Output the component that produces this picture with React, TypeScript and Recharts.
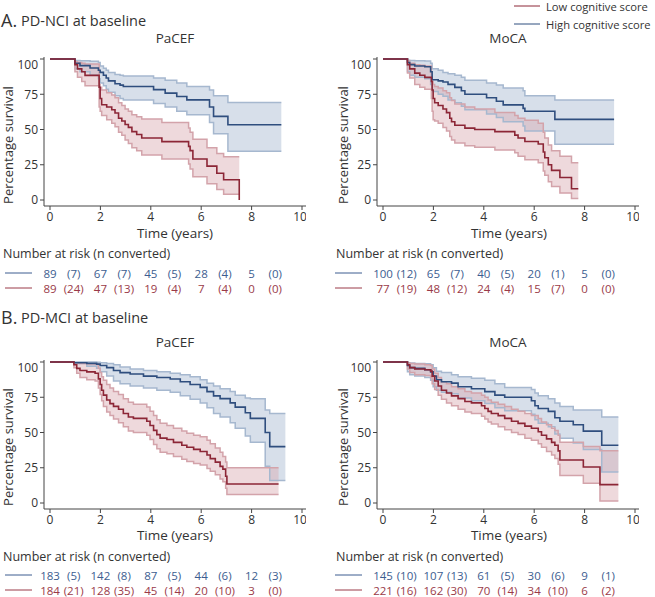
import { Area, ComposedChart, Line, XAxis, YAxis } from "recharts";

const FONT = "'Open Sans', 'Noto Sans', sans-serif";
const BLUE = "#2f4e7e";
const RED = "#8c2636";
const BLUE_CI = "#a6b8cf";
const RED_CI = "#d3a3aa";
const BLUE_TXT = "#3c5d90";
const RED_TXT = "#9a3a48";
const INK = "#333";

// Kaplan-Meier curves (time in years, survival %), with 95% CI
const aPacefHighT = [0, 0.99, 1.19, 1.59, 1.92, 1.99, 2.12, 2.23, 2.32, 2.58, 2.78, 2.91, 4.11, 4.57, 5.03, 5.43, 6.33, 6.49, 7.06, 9.18];
const aPacefHighS = [100, 97, 95.3, 93.6, 92, 90.5, 88.5, 86.5, 84.5, 82.5, 81.5, 80.5, 78.3, 75.8, 73.4, 71, 66, 59.3, 53.4, 53.4];
const aPacefHighU = [100, 99, 98.8, 98.4, 97.6, 95, 93.5, 92, 90.5, 89, 88.5, 88, 86.5, 85, 83, 80.5, 78, 74, 69.2, 69.2];
const aPacefHighL = [100, 93, 91, 88.5, 86, 83, 81, 78.5, 76.5, 74, 72, 71, 68.5, 66, 63, 60.5, 55, 47, 34.5, 34.5];

const aPacefLowT = [0, 0.99, 1.09, 1.26, 1.39, 1.95, 1.99, 2.05, 2.25, 2.45, 2.58, 2.72, 2.85, 2.98, 3.11, 3.25, 3.44, 3.64, 4.44, 5.5, 5.56, 5.67, 6.23, 6.62, 6.89, 7.51];
const aPacefLowS = [100, 96, 93, 91, 88.4, 80, 72, 67.6, 66, 64, 61.7, 58, 56, 53.5, 51.5, 48.5, 46.5, 44, 41.4, 38, 35, 29.1, 24, 19, 14.4, 0];
const aPacefLowU = [100, 98, 97.5, 97, 96.5, 82, 80, 78, 76, 74.5, 72.5, 69, 67, 64.5, 63, 60.5, 59, 57.5, 55, 51, 48, 43, 37, 33, 30.6, 30.6];
const aPacefLowL = [100, 91, 87, 84, 81, 66, 63, 60, 57, 54.5, 52, 48, 46, 42.5, 40, 37, 35, 32, 29, 25.5, 22, 16.5, 11.5, 7.5, 4, 4];

const aMocaHighT = [0, 0.97, 1.06, 1.26, 1.66, 1.89, 1.95, 2.19, 2.38, 2.58, 2.85, 3.11, 3.25, 4.11, 4.5, 4.77, 5.56, 5.63, 6.82, 9.17];
const aMocaHighS = [100, 97.5, 96, 95, 94.5, 91, 85.3, 84.5, 83.7, 82, 79.9, 77.5, 75, 72.5, 70, 67.5, 65, 62.9, 57.2, 57.2];
const aMocaHighU = [100, 99.2, 99, 98.8, 98.5, 97, 93, 92, 90.5, 89.5, 88.5, 87, 85, 83, 81.5, 79.5, 77.5, 74, 71, 71];
const aMocaHighL = [100, 91, 88.5, 87, 86, 82, 77, 75, 73.5, 71, 69, 66.5, 64, 61, 58.5, 55.5, 52.5, 49, 39.5, 39.5];

const aMocaLowT = [0, 0.97, 1.06, 1.26, 1.46, 1.66, 1.92, 1.95, 1.99, 2.05, 2.19, 2.38, 2.52, 2.65, 2.72, 2.85, 3.25, 3.64, 4.44, 5.23, 5.36, 5.63, 6.16, 6.36, 6.42, 6.56, 6.69, 7.02, 7.48, 7.75];
const aMocaLowS = [100, 96, 93, 90, 88.5, 87, 84, 78, 72, 69, 67, 64.5, 62, 58, 55.5, 53, 51, 50, 48.5, 46, 44, 41.5, 39.7, 34, 30, 25, 21, 16, 8, 8];
const aMocaLowU = [100, 98.5, 97, 96, 95.5, 95, 88, 84, 82, 80.5, 79.5, 77.5, 76, 72.5, 70.5, 68, 66, 64.5, 62, 60, 58, 56.5, 54.5, 48, 44, 39, 35, 31, 26.5, 26.5];
const aMocaLowL = [100, 90, 86.5, 82, 80, 78.5, 72, 63, 57, 56, 54.5, 51.5, 49, 45, 42.5, 40.5, 38.5, 37.5, 35.5, 33.5, 31, 28.5, 26.5, 20.5, 17.5, 13, 9.5, 5, 1, 1];

const bPacefHighT = [0, 0.95, 1.46, 1.85, 1.99, 2.25, 2.52, 2.78, 3.18, 3.71, 4.24, 4.77, 5.17, 5.56, 5.96, 6.23, 6.49, 6.75, 7.15, 7.35, 7.75, 7.95, 8.54, 8.72, 9.34];
const bPacefHighS = [100, 99.5, 99, 98.5, 97.5, 96, 94, 92.5, 91.5, 90, 89, 87.9, 86, 84, 82, 79, 76, 74, 71, 68, 64, 60, 50, 40, 40];
const bPacefHighU = [100, 100, 100, 99.8, 99.5, 99, 98, 96.5, 95, 94, 93, 92, 91, 89.5, 87.5, 85, 83, 81, 79, 76.5, 74.5, 74, 66, 63.5, 63.5];
const bPacefHighL = [100, 99, 97, 95.5, 93, 90, 86.5, 84.5, 83, 81.5, 80, 78.5, 76, 73.5, 71, 67.5, 63.5, 61, 57, 53, 47.5, 43, 26, 16, 16];

const bPacefLowT = [0, 0.95, 1.06, 1.19, 1.46, 1.79, 1.92, 1.99, 2.05, 2.12, 2.25, 2.38, 2.52, 2.72, 2.91, 3.11, 3.31, 3.84, 3.97, 4.11, 4.24, 4.37, 4.64, 4.9, 5.23, 5.43, 5.7, 5.96, 6.23, 6.36, 6.56, 6.75, 6.86, 6.97, 7.02, 9.07];
const bPacefLowS = [100, 98, 95.5, 94, 93, 92, 88, 84, 80, 76.5, 73, 70.5, 68.5, 66.5, 63.5, 61, 60, 58, 55, 51.5, 48.5, 46, 45, 43, 41, 39.5, 38, 36.5, 34, 31.5, 29, 26, 24, 19, 13.5, 13.5];
const bPacefLowU = [100, 99.5, 99.3, 99, 98.8, 98.5, 95.5, 92.5, 89.5, 87, 84, 81.5, 79, 77, 74, 71.5, 70, 68, 65, 62, 59, 56.5, 55, 53, 51, 49.5, 48, 47, 44.5, 42, 39, 36, 33, 29, 25, 25];
const bPacefLowL = [100, 96, 92, 89, 87.5, 86.5, 81.5, 77, 72.5, 68.5, 64.5, 62, 59.5, 57, 54, 51, 50, 48, 45, 41.5, 38.5, 36, 35, 33, 31, 29.5, 28, 27, 24.5, 22.5, 20, 17, 15, 10.5, 6, 6];

const bMocaHighT = [0, 0.97, 1.06, 1.26, 1.66, 1.89, 1.99, 2.12, 2.32, 2.72, 2.98, 3.51, 4.04, 4.44, 4.83, 5.89, 6.03, 6.16, 6.56, 6.82, 7.02, 7.55, 7.95, 8.68, 9.34];
const bMocaHighS = [100, 97.5, 96, 95.5, 94.5, 93, 90, 87.4, 86, 85, 82.5, 81, 79, 76.5, 75, 72.5, 69, 67, 65, 60.5, 58, 55.5, 51, 41, 41];
const bMocaHighU = [100, 99.5, 99.3, 99, 98.8, 98, 96, 93.5, 92.5, 91, 89.6, 88.5, 87, 84.5, 82, 80.5, 78, 76, 74, 71, 68.5, 66, 66, 61, 61];
const bMocaHighL = [100, 93, 91, 90, 89, 87, 82.5, 80, 78.5, 77.5, 74.5, 72.5, 70.5, 67.5, 65.5, 63, 59, 56.5, 54, 49, 46, 42.5, 38, 22, 22];

const bMocaLowT = [0, 0.97, 1.06, 1.26, 1.66, 1.89, 1.95, 2.05, 2.19, 2.32, 2.52, 2.72, 2.98, 3.25, 3.51, 3.91, 4.04, 4.17, 4.3, 4.57, 4.83, 5.1, 5.36, 5.63, 5.89, 6.16, 6.29, 6.49, 6.69, 6.82, 6.95, 7.02, 7.95, 8.61, 9.34];
const bMocaLowS = [100, 98, 96, 95, 94.5, 93.5, 90, 86.5, 83, 80, 78, 76, 74, 72, 71, 69, 67, 65, 63.5, 62, 60, 58, 56.5, 54.5, 53, 50.5, 48, 45.5, 43, 41, 37, 30.5, 25.5, 13, 13];
const bMocaLowU = [100, 99.5, 99, 98.5, 98, 97.5, 95, 92, 89, 86, 84.5, 82.5, 81, 79, 78, 76.5, 75, 73, 71.5, 70, 68.5, 66.5, 65, 63.5, 62, 60, 57.5, 55.5, 53, 51.5, 48, 43, 40, 37, 37];
const bMocaLowL = [100, 95, 92.5, 91, 90.5, 89, 84.5, 80.5, 76.5, 73.5, 71, 69, 66.5, 64.5, 63.5, 61.5, 59.5, 57.5, 56, 54, 52, 50, 48.5, 46, 44.5, 42, 39.5, 36.5, 34, 31.5, 27.5, 19.5, 14, 1.5, 1.5];

// Number at risk (n converted) at years 0,2,4,6,8
const aPacefHighRisk = [89, 67, 45, 28, 5];
const aPacefHighConv = [7, 7, 5, 4, 0];
const aPacefLowRisk = [89, 47, 19, 7, 0];
const aPacefLowConv = [24, 13, 4, 4, 0];
const aMocaHighRisk = [100, 65, 40, 20, 5];
const aMocaHighConv = [12, 7, 5, 1, 0];
const aMocaLowRisk = [77, 48, 24, 15, 0];
const aMocaLowConv = [19, 12, 4, 7, 0];
const bPacefHighRisk = [183, 142, 87, 44, 12];
const bPacefHighConv = [5, 8, 5, 6, 3];
const bPacefLowRisk = [184, 128, 45, 20, 3];
const bPacefLowConv = [21, 35, 14, 10, 0];
const bMocaHighRisk = [145, 107, 61, 30, 9];
const bMocaHighConv = [10, 13, 5, 6, 1];
const bMocaLowRisk = [221, 162, 70, 34, 6];
const bMocaLowConv = [16, 30, 14, 10, 2];

const xTicks = [0, 2, 4, 6, 8, 10];
const yTicks = [0, 25, 50, 75, 100];

function toRows(t: number[], s: number[], lo: number[], hi: number[]) {
  return t.map((v, i) => ({ t: v, s: s[i], lo: lo[i], hi: hi[i], band: [lo[i], hi[i]] }));
}

const tickStyle = { fill: INK, fontSize: 12, fontFamily: FONT };

function KMChart({ high, low }: { high: any[]; low: any[] }) {
  return (
    <ComposedChart width={306} height={173} margin={{ top: 0, right: 0, bottom: 0, left: 0 }}>
      <XAxis type="number" dataKey="t" domain={[0, 10]} ticks={xTicks} padding={{ left: 6, right: 4 }}
        tickSize={4} height={24} stroke="#444" tick={tickStyle} allowDataOverflow />
      <YAxis type="number" domain={[0, 100]} ticks={yTicks} padding={{ top: 2, bottom: 6 }}
        width={44} tickSize={4} stroke="#444" tick={tickStyle} />
      <Area data={high} dataKey="band" type="stepAfter" fill="#bccadc" fillOpacity={0.6} stroke="none" dot={false} activeDot={false} isAnimationActive={false} />
      <Area data={low} dataKey="band" type="stepAfter" fill="#d9aab1" fillOpacity={0.45} stroke="none" dot={false} activeDot={false} isAnimationActive={false} />
      <Line data={high} dataKey="hi" type="stepAfter" stroke={BLUE_CI} strokeWidth={1.5} dot={false} activeDot={false} isAnimationActive={false} />
      <Line data={high} dataKey="lo" type="stepAfter" stroke={BLUE_CI} strokeWidth={1.5} dot={false} activeDot={false} isAnimationActive={false} />
      <Line data={low} dataKey="hi" type="stepAfter" stroke={RED_CI} strokeWidth={1.5} dot={false} activeDot={false} isAnimationActive={false} />
      <Line data={low} dataKey="lo" type="stepAfter" stroke={RED_CI} strokeWidth={1.5} dot={false} activeDot={false} isAnimationActive={false} />
      <Line data={high} dataKey="s" type="stepAfter" stroke={BLUE} strokeWidth={1.6} dot={false} activeDot={false} isAnimationActive={false} />
      <Line data={low} dataKey="s" type="stepAfter" stroke={RED} strokeWidth={1.6} dot={false} activeDot={false} isAnimationActive={false} />
    </ComposedChart>
  );
}

function RiskTable({ x0, y, hr, hc, lr, lc, lineX }: { x0: number; y: number; hr: number[]; hc: number[]; lr: number[]; lc: number[]; lineX: number }) {
  const px = (t: number) => x0 + t * 25.2;
  const row = (yy: number, risk: number[], conv: number[], color: string) => (
    <g fill={color}>
      <line x1={lineX} x2={lineX + 27} y1={yy} y2={yy} stroke={color} strokeWidth={1} />
      {risk.map((v, i) => (
        <text key={"r" + i} x={px(i * 2)} y={yy} textAnchor="middle" dominantBaseline="central">{v}</text>
      ))}
      {conv.map((v, i) => (
        <text key={"c" + i} x={px(i * 2 + 1) - 1.5} y={yy} textAnchor="middle" dominantBaseline="central">({v})</text>
      ))}
    </g>
  );
  return (
    <g fontSize={11.5}>
      {row(y, hr, hc, BLUE_TXT)}
      {row(y + 15, lr, lc, RED_TXT)}
    </g>
  );
}

export default function App() {
  const panels = [
    { left: 0, top: 57, high: toRows(aPacefHighT, aPacefHighS, aPacefHighL, aPacefHighU), low: toRows(aPacefLowT, aPacefLowS, aPacefLowL, aPacefLowU) },
    { left: 333, top: 57, high: toRows(aMocaHighT, aMocaHighS, aMocaHighL, aMocaHighU), low: toRows(aMocaLowT, aMocaLowS, aMocaLowL, aMocaLowU) },
    { left: 0, top: 360, high: toRows(bPacefHighT, bPacefHighS, bPacefHighL, bPacefHighU), low: toRows(bPacefLowT, bPacefLowS, bPacefLowL, bPacefLowU) },
    { left: 333, top: 360, high: toRows(bMocaHighT, bMocaHighS, bMocaHighL, bMocaHighU), low: toRows(bMocaLowT, bMocaLowS, bMocaLowL, bMocaLowU) },
  ];
  return (
    <div style={{ position: "absolute", left: 0, top: 0, width: 655, height: 597, background: "#fff", fontFamily: FONT }}>
      {panels.map((p, i) => (
        <div key={i} style={{ position: "absolute", left: p.left, top: p.top }}>
          <KMChart high={p.high} low={p.low} />
        </div>
      ))}
      <svg width={655} height={597} style={{ position: "absolute", left: 0, top: 0, pointerEvents: "none" }} fontFamily={FONT} fill={INK}>
        {/* titles */}
        <text x={1} y={20} fontSize={18} dominantBaseline="central">A.</text>
        <text x={21} y={20} fontSize={14.5} dominantBaseline="central">PD-NCI at baseline</text>
        <text x={1} y={317} fontSize={18} dominantBaseline="central">B.</text>
        <text x={21} y={317} fontSize={14.5} dominantBaseline="central">PD-MCI at baseline</text>
        <text x={175} y={38} fontSize={13.5} textAnchor="middle" dominantBaseline="central">PaCEF</text>
        <text x={508} y={38} fontSize={13.5} textAnchor="middle" dominantBaseline="central">MoCA</text>
        <text x={175} y={342} fontSize={13.5} textAnchor="middle" dominantBaseline="central">PaCEF</text>
        <text x={508} y={342} fontSize={13.5} textAnchor="middle" dominantBaseline="central">MoCA</text>
        {/* legend */}
        <line x1={514} x2={540} y1={6} y2={6} stroke={RED} strokeWidth={1} />
        <text x={546} y={6} fontSize={11.2} dominantBaseline="central">Low cognitive score</text>
        <line x1={514} x2={540} y1={24} y2={24} stroke={BLUE} strokeWidth={1} />
        <text x={546} y={24} fontSize={11.2} dominantBaseline="central">High cognitive score</text>
        {/* axis titles */}
        {[[8, 145], [343, 145], [8, 447], [343, 447]].map(([x, y], i) => (
          <text key={"yl" + i} x={x} y={y} fontSize={13} textAnchor="middle" dominantBaseline="central" transform={`rotate(-90 ${x} ${y})`}>Percentage survival</text>
        ))}
        {[[175, 233], [509, 233], [175, 535], [509, 535]].map(([x, y], i) => (
          <text key={"xl" + i} x={x} y={y} fontSize={13.5} textAnchor="middle" dominantBaseline="central">Time (years)</text>
        ))}
        {[[3, 253], [336, 253], [3, 556], [336, 556]].map(([x, y], i) => (
          <text key={"nr" + i} x={x} y={y} fontSize={12.5} dominantBaseline="central">Number at risk (n converted)</text>
        ))}
        <RiskTable x0={50} y={273} lineX={5} hr={aPacefHighRisk} hc={aPacefHighConv} lr={aPacefLowRisk} lc={aPacefLowConv} />
        <RiskTable x0={383} y={273} lineX={335} hr={aMocaHighRisk} hc={aMocaHighConv} lr={aMocaLowRisk} lc={aMocaLowConv} />
        <RiskTable x0={50} y={575} lineX={5} hr={bPacefHighRisk} hc={bPacefHighConv} lr={bPacefLowRisk} lc={bPacefLowConv} />
        <RiskTable x0={383} y={575} lineX={335} hr={bMocaHighRisk} hc={bMocaHighConv} lr={bMocaLowRisk} lc={bMocaLowConv} />
      </svg>
    </div>
  );
}
